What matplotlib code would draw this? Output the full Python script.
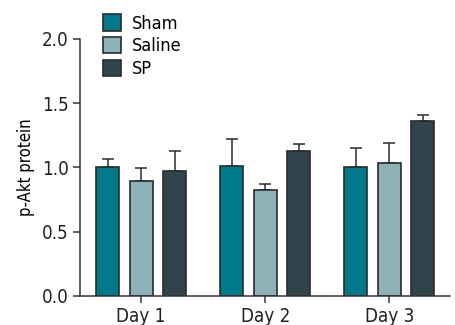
import numpy as np
import matplotlib.pyplot as plt
from matplotlib.patches import Patch

plt.rcParams['font.family'] = ['DejaVu Sans']
plt.rcParams['font.stretch'] = 'condensed'

days = ['Day 1', 'Day 2', 'Day 3']
groups = ['Sham', 'Saline', 'SP']
sham = [1.00, 1.01, 1.00]
sham_err = [0.065, 0.21, 0.15]
saline = [0.895, 0.82, 1.035]
saline_err = [0.10, 0.05, 0.155]
sp = [0.975, 1.125, 1.36]
sp_err = [0.15, 0.06, 0.05]

colors = ['#007a8a', '#8cb1b6', '#2f444b']
edge = '#2b2b2b'

fig = plt.figure(figsize=(4.55, 3.25), dpi=100)
ax = fig.add_axes([0.176, 0.09, 0.813, 0.79])

x = np.arange(1, len(days) + 1)
w = 0.185
step = 0.27
series = [(sham, sham_err), (saline, saline_err), (sp, sp_err)]
for i, (vals, errs) in enumerate(series):
    pos = x + (i - 1) * step
    ax.bar(pos, vals, width=w, color=colors[i], edgecolor=edge, linewidth=1.2, zorder=2)
    ax.errorbar(pos, vals, yerr=[np.zeros(len(errs)), errs], fmt='none',
                ecolor=edge, elinewidth=1.1, capsize=4.5, capthick=1.1, zorder=1)

ax.set_xlim(0.508, 3.49)
ax.set_ylim(0, 2.0)
ax.set_yticks([0.0, 0.5, 1.0, 1.5, 2.0])
ax.set_yticklabels(['0.0', '0.5', '1.0', '1.5', '2.0'])
ax.set_xticks(x)
ax.set_xticklabels(days)
ax.set_ylabel('p-Akt protein', fontsize=12, labelpad=5)
ax.tick_params(axis='both', direction='out', length=5, width=1.1, color='#333333',
               labelsize=13.5, labelcolor='#222222', pad=3)
for s in ['top', 'right']:
    ax.spines[s].set_visible(False)
for s in ['left', 'bottom']:
    ax.spines[s].set_linewidth(1.1)
    ax.spines[s].set_color('#333333')

handles = [Patch(facecolor=c, edgecolor=edge, linewidth=1.2, label=g) for c, g in zip(colors, groups)]
fig.legend(handles=handles, loc='upper left', bbox_to_anchor=(0.21, 0.978), frameon=False,
           fontsize=13, handlelength=1.0, handleheight=1.0, handletextpad=0.6,
           labelspacing=0.25, borderaxespad=0)

fig.savefig('out.png', dpi=100)
